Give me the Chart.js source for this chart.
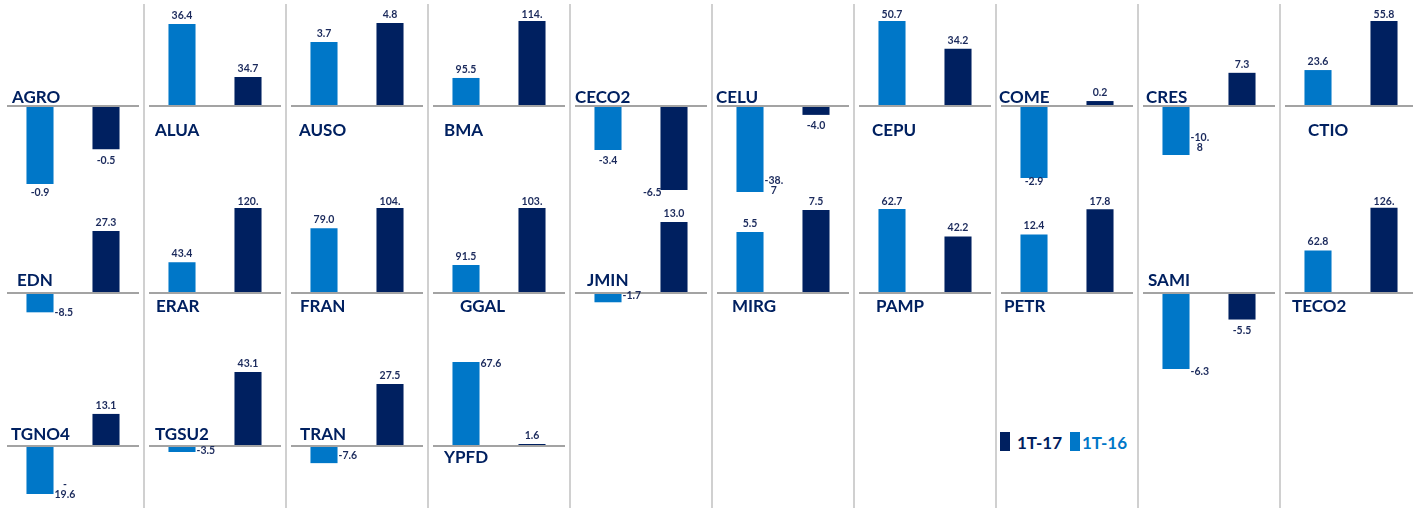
<!DOCTYPE html>
<html>
<head>
<meta charset="utf-8">
<script src="https://cdn.jsdelivr.net/npm/chart.js@4.4.1/dist/chart.umd.min.js"></script>
<style>
	body { margin: 0; background: #fff; width: 1413px; height: 508px; overflow: hidden; position: relative; font-family: Lato, sans-serif; }
	.cell { position: absolute; }
	.sep { position: absolute; top: 4px; bottom: 0; width: 2px; background: #d0d0d0; }
	.sw { position: absolute; top: 432px; width: 10px; height: 19px; }
	.lt { position: absolute; top: 432px; height: 19px; line-height: 19px; font: bold 17px Lato, sans-serif; }
</style>
</head>
<body>
<div id="grid"></div>
<div class="sw" style="left:1000px;background:#002060"></div>
<div class="lt" style="left:1017px;color:#002060">1T-17</div>
<div class="sw" style="left:1070px;background:#0077c8"></div>
<div class="lt" style="left:1082px;color:#0077c8">1T-16</div>
<script>
var seriesNames = ['1T-16', '1T-17'];
var tickers = ['AGRO', 'ALUA', 'AUSO', 'BMA', 'CECO2', 'CELU', 'CEPU', 'COME', 'CRES', 'CTIO',
	'EDN', 'ERAR', 'FRAN', 'GGAL', 'JMIN', 'MIRG', 'PAMP', 'PETR', 'SAMI', 'TECO2',
	'TGNO4', 'TGSU2', 'TRAN', 'YPFD'];

// bar values (each small chart has its own scale)
var v16 = [-0.9, 36.4, 3.7, 37.6, -3.4, -38.7, 50.7, -2.9, -10.8, 23.6,
	-8.5, 43.4, 79.0, 33.9, -1.7, 5.5, 62.7, 12.4, -6.3, 62.8,
	-19.6, -3.5, -7.6, 67.6];
var v17 = [-0.5, 12.9, 4.8, 114, -6.5, -4.0, 34.2, 0.2, 7.3, 55.8,
	27.3, 120, 104, 103, 13.0, 7.5, 42.2, 17.8, -2.2, 126,
	13.1, 43.1, 27.5, 1.6];

// data labels as printed on the chart
var lab16 = ['-0.9', '36.4', '3.7', '95.5', '-3.4', '-38.\n7', '50.7', '-2.9', '-10.\n8', '23.6',
	'-8.5', '43.4', '79.0', '91.5', '-1.7', '5.5', '62.7', '12.4', '-6.3', '62.8',
	'-\n19.6', '-3.5', '-7.6', '67.6'];
var lab17 = ['-0.5', '34.7', '4.8', '114.', '-6.5', '-4.0', '34.2', '0.2', '7.3', '55.8',
	'27.3', '120.', '104.', '103.', '13.0', '7.5', '42.2', '17.8', '-5.5', '126.',
	'13.1', '43.1', '27.5', '1.6'];

// axis range of each small chart (symmetric around 0)
var axisMax = [1.04, 40, 5.2, 120.7, 6.96, 40.5, 53.7, 3.63, 19.8, 59.1,
	39.6, 127, 110, 109, 16.5, 8.13, 67.2, 19.1, 7.46, 133,
	36.75, 52.4, 39.9, 72.4];

// layout
var rowBase = [106, 293, 446];
var tickerDx = [10, 11, 13, 16, 5, 4, 18, 3, 8, 28,
	15, 12, 14, 32, 17, 20, 22, 8, 10, 12,
	9, 11, 14, 16];
var tickerDy = [-3, 30, 30, 30, -3, -3, 30, -3, -3, 30,
	-7, 19, 19, 19, -7, 19, 19, 19, -7, 19,
	-6, -6, -6, 17];
var labelPlace = {
	'CELU:0': ['r', -1], 'CRES:0': ['r', -7], 'EDN:0': ['r', 0], 'JMIN:0': ['r', -7],
	'SAMI:0': ['r', 3], 'TGNO4:0': ['r', 1], 'TGSU2:0': ['r', -1], 'TRAN:0': ['r', -8],
	'YPFD:0': ['r', 2], 'CECO2:1': ['l', 3], 'COME:0': ['c', 4]
};

var light = '#0077c8';
var navy = '#002060';
var labelColor = '#1b2a5c';

var cellPlugin = {
	id: 'cell',
	afterDatasetsDraw: function (chart, args, opts) {
		var i = opts.index;
		var ctx = chart.ctx;
		var area = chart.chartArea;
		var y0 = chart.scales.y.getPixelForValue(0);
		ctx.save();
		ctx.strokeStyle = '#a3a3a3';
		ctx.lineWidth = 2;
		ctx.beginPath();
		ctx.moveTo(area.left, y0);
		ctx.lineTo(area.right, y0);
		ctx.stroke();

		ctx.fillStyle = navy;
		ctx.font = 'bold 17px Lato';
		ctx.textAlign = 'left';
		ctx.textBaseline = 'alphabetic';
		ctx.fillText(tickers[i], tickerDx[i], y0 + tickerDy[i]);

		var meta = chart.getDatasetMeta(0);
		ctx.font = 'bold 10.5px Lato';
		ctx.textBaseline = 'middle';
		ctx.textAlign = 'center';
		ctx.fillStyle = labelColor;
		[lab16[i], lab17[i]].forEach(function (txt, j) {
			var bar = meta.data[j];
			var val = j ? v17[i] : v16[i];
			var lines = txt.split('\n');
			var lh = 10.5;
			var maxW = 0;
			lines.forEach(function (l) { maxW = Math.max(maxW, ctx.measureText(l).width); });
			var place = labelPlace[tickers[i] + ':' + j];
			var cx = bar.x, top;
			if (!place) {
				if (val >= 0) {
					top = Math.max(bar.y - 8.5, area.top - 1) - (lines.length - 1) * lh;
				} else {
					top = Math.min(bar.y + 11, area.bottom - 3);
				}
			} else {
				top = bar.y + place[1] - (lines.length - 1) * lh;
				if (place[0] == 'r') cx = bar.x + bar.width / 2 + 1 + maxW / 2;
				if (place[0] == 'l') cx = bar.x - bar.width / 2 + 1 - maxW / 2;
			}
			lines.forEach(function (l, k) {
				ctx.fillText(l, cx, top + k * lh);
			});
		});
		ctx.restore();
	}
};

function separators() {
	for (var k = 1; k < 10; k++) {
		var d = document.createElement('div');
		d.className = 'sep';
		d.style.left = (142 * k + 1) + 'px';
		document.body.appendChild(d);
	}
}

function cells() {
	var grid = document.getElementById('grid');
	tickers.forEach(function (t, i) {
		var row = Math.floor(i / 10), col = i % 10;
		var c = document.createElement('canvas');
		c.className = 'cell';
		c.width = 142;
		c.height = 220;
		c.style.left = (142 * col + 2) + 'px';
		c.style.top = (rowBase[row] - 110) + 'px';
		grid.appendChild(c);
		new Chart(c.getContext('2d'), {
			type: 'bar',
			data: {
				labels: seriesNames,
				datasets: [{
					data: [v16[i], v17[i]],
					backgroundColor: [light, navy],
					categoryPercentage: 1,
					barPercentage: 0.41
				}]
			},
			options: {
				responsive: false,
				animation: false,
				layout: { padding: { top: 20, bottom: 20, left: 5, right: 5 } },
				scales: {
					x: { display: false },
					y: { display: false, min: -axisMax[i], max: axisMax[i] }
				},
				plugins: {
					legend: { display: false },
					tooltip: { enabled: false },
					cell: { index: i }
				}
			},
			plugins: [cellPlugin]
		});
	});
}

separators();
cells();
</script>
</body>
</html>
